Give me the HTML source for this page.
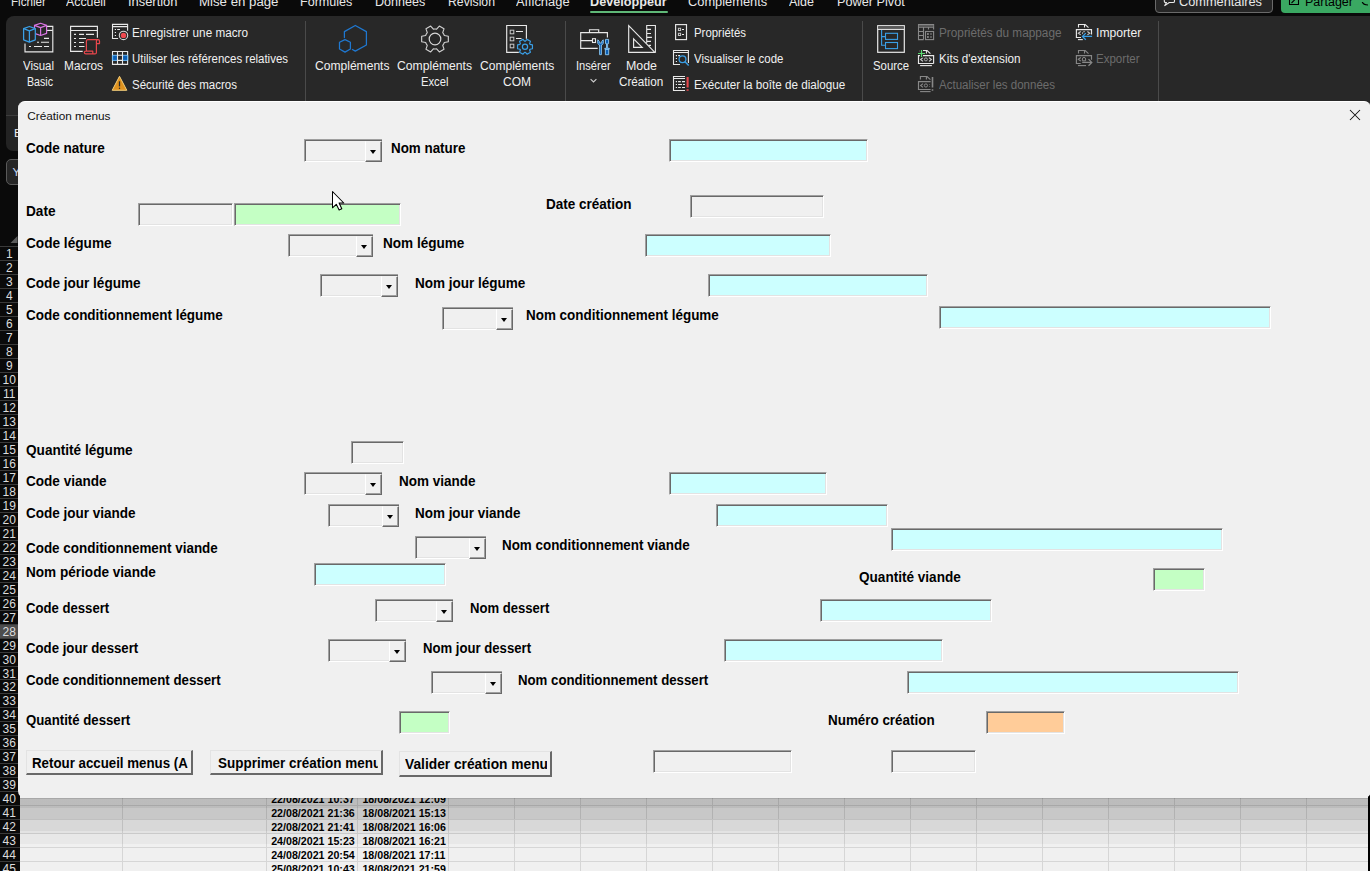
<!DOCTYPE html>
<html><head><meta charset="utf-8"><style>
*{margin:0;padding:0;box-sizing:border-box}
html,body{width:1370px;height:871px;overflow:hidden;background:#0a0a0a;font-family:'Liberation Sans', sans-serif}
.t{position:absolute;white-space:nowrap;line-height:normal;font-family:'Liberation Sans', sans-serif}
#topbar{position:absolute;left:0;top:0;width:1370px;height:16px;background:#0a0a0a}
#ribbon{position:absolute;left:6px;top:16px;width:1400px;height:99px;background:#282828;border-radius:8px 0 0 0}
#ribbon2{position:absolute;left:6px;top:115px;width:30px;height:36px;background:#232323;border-top:1px solid #3d3d3d;border-radius:0 0 0 7px}
.rh{position:absolute;left:0;width:20px;border-bottom:1px solid #3a3a3a;color:#dcdcdc;font-size:12px;line-height:15px;text-align:center;padding-right:1.5px;font-family:'Liberation Sans', sans-serif}
#cells{position:absolute;left:20px;top:780px;width:1348px;height:91px;background:#f0f0f0}
#shadow{position:absolute;left:20px;top:798px;width:1348px;height:50px;background:linear-gradient(to bottom, rgba(0,0,0,0.3) 0px, rgba(0,0,0,0.3) 1px, rgba(0,0,0,0.215) 1px, rgba(0,0,0,0.215) 10px, rgba(0,0,0,0.167) 10px, rgba(0,0,0,0.167) 21px, rgba(0,0,0,0.1) 21px, rgba(0,0,0,0.1) 33px, rgba(0,0,0,0.055) 33px, rgba(0,0,0,0.055) 36px, rgba(0,0,0,0.035) 36px, rgba(0,0,0,0.035) 46px, rgba(0,0,0,0) 46px)}
#dlg{position:absolute;left:18px;top:101px;width:1353px;height:697px;background:#f0f0f0;border-radius:7px;overflow:hidden;border-top:1px solid #ffffff}
.lb{font-size:14px;font-weight:bold;color:#000}
.tb{position:absolute;border-style:solid;border-width:1px;border-color:#a0a0a0 #ffffff #ffffff #a0a0a0;box-shadow:inset 1px 1px 0 #696969, inset -1px -1px 0 #e3e3e3}
.cb{position:absolute;background:#f0f0f0;border-style:solid;border-width:1px 0 1px 1px;border-color:#a0a0a0 #ffffff #ffffff #a0a0a0;box-shadow:inset 1px 1px 0 #696969, inset 0 -1px 0 #e3e3e3}
.cb .btn{position:absolute;right:0;top:1px;bottom:-1px;background:#f0f0f0;border-style:solid;border-width:1px 1px 1px 1px;border-color:#f0f0f0 #696969 #696969 #ffffff;box-shadow:inset -1px -1px 0 #a0a0a0}
.cb .btn i{position:absolute;left:50%;top:50%;margin-left:-4px;margin-top:-2px;width:0;height:0;border-left:3.5px solid transparent;border-right:3.5px solid transparent;border-top:4px solid #000}
.cmd{position:absolute;background:#f0f0f0;border-style:solid;border-width:1px 2px 2px 1px;border-color:#e3e3e3 #696969 #696969 #e3e3e3;overflow:hidden}
</style></head><body>
<div id="topbar"></div><div class="t" style="left: 10.5px; top: -5.1px; font-size: 12.3px; font-weight: normal; color: rgb(232, 232, 232); transform: scaleX(0.9483); transform-origin: 0px 0px;">Fichier</div><div class="t" style="left: 66px; top: -5.1px; font-size: 12.3px; font-weight: normal; color: rgb(232, 232, 232); transform: scaleX(1.0036); transform-origin: 0px 0px;">Accueil</div><div class="t" style="left: 128px; top: -5.1px; font-size: 12.3px; font-weight: normal; color: rgb(232, 232, 232); transform: scaleX(1.0472); transform-origin: 0px 0px;">Insertion</div><div class="t" style="left: 199px; top: -5.1px; font-size: 12.3px; font-weight: normal; color: rgb(232, 232, 232); transform: scaleX(1.0766); transform-origin: 0px 0px;">Mise en page</div><div class="t" style="left: 300px; top: -5.1px; font-size: 12.3px; font-weight: normal; color: rgb(232, 232, 232); transform: scaleX(1.0224); transform-origin: 0px 0px;">Formules</div><div class="t" style="left: 375.4px; top: -5.1px; font-size: 12.3px; font-weight: normal; color: rgb(232, 232, 232); transform: scaleX(1.0216); transform-origin: 0px 0px;">Données</div><div class="t" style="left: 447.7px; top: -5.1px; font-size: 12.3px; font-weight: normal; color: rgb(232, 232, 232); transform: scaleX(0.9964); transform-origin: 0px 0px;">Révision</div><div class="t" style="left: 515.9px; top: -5.1px; font-size: 12.3px; font-weight: normal; color: rgb(232, 232, 232); transform: scaleX(1.0497); transform-origin: 0px 0px;">Affichage</div><div class="t" style="left: 590.3px; top: -5.1px; font-size: 12.3px; font-weight: bold; color: rgb(232, 232, 232); transform: scaleX(1.0284); transform-origin: 0px 0px;">Développeur</div><div class="t" style="left: 688.3px; top: -5.1px; font-size: 12.3px; font-weight: normal; color: rgb(232, 232, 232); transform: scaleX(1.044); transform-origin: 0px 0px;">Compléments</div><div class="t" style="left: 789.2px; top: -5.1px; font-size: 12.3px; font-weight: normal; color: rgb(232, 232, 232); transform: scaleX(1.0152); transform-origin: 0px 0px;">Aide</div><div class="t" style="left: 837.2px; top: -5.1px; font-size: 12.3px; font-weight: normal; color: rgb(232, 232, 232); transform: scaleX(1.0331); transform-origin: 0px 0px;">Power Pivot</div><div style="position:absolute;left:590px;top:11px;width:78px;height:2px;background:#5fb877;border-radius:1px"></div><div style="position:absolute;left:1155px;top:-6px;width:118px;height:19px;border:1px solid #6a6a6a;border-radius:4px;background:#262626"></div><svg style="position:absolute;left:0;top:0" width="1370" height="16" viewBox="0 0 1370 16"><path d="M1164.3 -6 V1.2 Q1164.3 2.5 1165.6 2.5 H1166.5 L1164.8 5.6 L1169.3 2.5 H1173.2 Q1174.5 2.5 1174.5 1.2 V-6" fill="none" stroke="#e8e8e8" stroke-width="1.1" stroke-linejoin="round"></path></svg><div class="t" style="left: 1179.4px; top: -5.1px; font-size: 12.3px; color: rgb(232, 232, 232); transform: scaleX(1.0379); transform-origin: 0px 0px;">Commentaires</div><div style="position:absolute;left:1281px;top:-6px;width:100px;height:19px;border-radius:4px;background:#3aa862"></div><div class="t" style="left: 1304.6px; top: -5.1px; font-size: 12.3px; color: rgb(0, 0, 0); transform: scaleX(1.0176); transform-origin: 0px 0px;">Partager</div><svg style="position:absolute;left:0;top:0" width="1370" height="16" viewBox="0 0 1370 16"><path d="M1289.5 -4 V4.5 H1298.5 V-4 M1291.5 3 L1297 -2.5" fill="none" stroke="#000" stroke-width="1.1"></path></svg><svg style="position:absolute;left:1360px;top:2px" width="10" height="10" viewBox="0 0 10 10"><path d="M2 -2 Q 2 3 8 3" fill="none" stroke="#000" stroke-width="1.2"></path></svg><div id="ribbon"></div><div id="ribbon2"></div><div style="position:absolute;left:304.5px;top:21px;width:1px;height:80px;background:#4a4a4a"></div><div style="position:absolute;left:565px;top:21px;width:1px;height:80px;background:#4a4a4a"></div><div style="position:absolute;left:861.5px;top:21px;width:1px;height:80px;background:#4a4a4a"></div><div style="position:absolute;left:1158px;top:21px;width:1px;height:80px;background:#4a4a4a"></div><svg style="position:absolute;left:0;top:0" width="1370" height="101" viewBox="0 0 1370 101"><path d="M37 26.3 H52.8 V51.8 H25 V43.5" fill="none" stroke="#e8e8e8" stroke-width="1.15"></path><path d="M47 30.4 H52.8" stroke="#e8e8e8" stroke-width="1.15"></path><path d="M44 38.4 H49 M37 42.3 H39 M41 42.3 H49 M29 46.5 H31 M34 46.5 H42 M44 46.5 H49" stroke="#e8e8e8" stroke-width="1.1"></path><path d="M34.5 25.4 L40.6 23.3 L46.6 25.4 V33.4 L40.6 35.5 L34.5 33.4 Z" fill="#282828" stroke="#d975e3" stroke-width="1.2" stroke-linejoin="round"></path><path d="M34.5 25.4 L40.6 27.6 L46.6 25.4 M40.6 27.6 V35.5" fill="none" stroke="#d975e3" stroke-width="1.2" stroke-linejoin="round"></path><path d="M23.6 28.7 L29.4 26.5 L35.3 28.7 V39.8 L29.4 42.2 L23.6 39.8 Z" fill="#282828" stroke="#3a9fe6" stroke-width="1.25" stroke-linejoin="round"></path><path d="M23.6 28.7 L29.4 30.9 L35.3 28.7 M29.4 30.9 V42.2" fill="none" stroke="#3a9fe6" stroke-width="1.25" stroke-linejoin="round"></path><path d="M82.7 51.4 H70.6 V26.3 H97.4 V37.7 M70.6 30.5 H97.4" fill="none" stroke="#e8e8e8" stroke-width="1.15"></path><path d="M74 34.4 H76 M79 34.4 H84 M86 34.4 H94 M74 38.5 H76 M79 38.5 H86 M74 42.5 H76 M79 42.5 H84 M74 46.5 H76 M79 46.5 H84.5" stroke="#e8e8e8" stroke-width="1.1"></path><path d="M86.4 51.5 V41 Q86.4 39.6 87.8 39.6 H98 Q99.5 39.6 99.5 41 V43.6 H96.4 M98 39.6 Q96.4 39.6 96.4 41 V52.4 Q96.4 53.9 95 53.9 H85.8 Q84.3 53.9 84.3 52.6 Q84.3 51.2 85.8 51.2 H92.8 V53.9" fill="#282828" stroke="#e8474c" stroke-width="1.2" stroke-linejoin="round"></path><path d="M118.1 38.5 H112.5 V24.4 H127.6 V30.8 M112.5 26.6 H127.6" fill="none" stroke="#e8e8e8" stroke-width="1.1"></path><path d="M114.8 29.5 H116 M117.2 29.5 H120 M114.8 32.5 H116 M114.8 35.5 H116" stroke="#e8e8e8" stroke-width="1.1"></path><circle cx="123.5" cy="35.4" r="4.2" fill="#282828" stroke="#d8d8d8" stroke-width="1.1"></circle><circle cx="123.5" cy="35.4" r="2.7" fill="#ee4a50"></circle><rect x="112.5" y="55.3" width="5" height="5.1" fill="#0b5fb5" stroke="#6ab8f5" stroke-width="1"></rect><rect x="122.5" y="55.3" width="5.1" height="5.1" fill="#0b5fb5" stroke="#6ab8f5" stroke-width="1"></rect><path d="M112.5 51.5 H127.6 V64.4 H112.5 Z M117.5 51.5 V64.4 M122.5 51.5 V64.4 M117.5 55.3 H122.5 M117.5 60.4 H122.5" fill="none" stroke="#e8e8e8" stroke-width="1.1"></path><path d="M112.5 55.3 V60.4 M127.6 55.3 V60.4" stroke="#6ab8f5" stroke-width="1.1"></path><path d="M119.5 76.3 L126.8 90.3 H112.2 Z" fill="#e0921e" stroke="#f3cf7c" stroke-width="1" stroke-linejoin="round"></path><path d="M119.5 81.3 V86.4" stroke="#2a2a2a" stroke-width="1.3"></path><circle cx="119.5" cy="88.3" r="0.75" fill="#2a2a2a"></circle><path d="M344.4 37.6 V31.6 L355.3 25.5 L366.4 31.6 V45 L355.3 51.1 L352.4 49.5" fill="none" stroke="#1f78d1" stroke-width="1.25" stroke-linejoin="round" stroke-linecap="round"></path><path d="M345 39.6 L350.4 42.3 V49 L345 52.1 L339.5 49 V42.3 Z" fill="none" stroke="#1f78d1" stroke-width="1.25" stroke-linejoin="round"></path><path d="M444.36 35.48 L448.33 36.30 L448.33 41.70 L444.36 42.52 A10.0 10.0 0 0 1 442.73 45.34 L442.73 45.34 L444.00 49.19 L439.32 51.89 L436.63 48.87 A10.0 10.0 0 0 1 433.37 48.87 L433.37 48.87 L430.68 51.89 L426.00 49.19 L427.27 45.34 A10.0 10.0 0 0 1 425.64 42.52 L425.64 42.52 L421.67 41.70 L421.67 36.30 L425.64 35.48 A10.0 10.0 0 0 1 427.27 32.66 L427.27 32.66 L426.00 28.81 L430.68 26.11 L433.37 29.13 A10.0 10.0 0 0 1 436.63 29.13 L436.63 29.13 L439.32 26.11 L444.00 28.81 L442.73 32.66 A10.0 10.0 0 0 1 444.36 35.48 Z" fill="none" stroke="#d0d0d0" stroke-width="1.15" stroke-linejoin="round"></path><circle cx="435" cy="39" r="5.8" fill="none" stroke="#d8d8d8" stroke-width="1.2"></circle><path d="M518.8 52.3 H506.7 V25.5 H526.4 V38.8" fill="none" stroke="#e8e8e8" stroke-width="1.15"></path><rect x="510.2" y="30.2" width="3.6" height="3.6" fill="none" stroke="#c8c8c8" stroke-width="1"></rect><rect x="510.2" y="37.2" width="3.6" height="3.6" fill="none" stroke="#c8c8c8" stroke-width="1"></rect><rect x="510.2" y="44.2" width="3.6" height="3.6" fill="none" stroke="#c8c8c8" stroke-width="1"></rect><path d="M516 31.5 H523 M516 38.5 H521.5" stroke="#e8e8e8" stroke-width="1"></path><path d="M530.04 44.36 L532.44 44.82 L532.44 48.78 L530.04 49.24 A5.6 5.6 0 0 1 529.63 49.95 L529.63 49.95 L530.43 52.25 L527.01 54.23 L525.41 52.38 A5.6 5.6 0 0 1 524.59 52.38 L524.59 52.38 L522.99 54.23 L519.57 52.25 L520.37 49.95 A5.6 5.6 0 0 1 519.96 49.24 L519.96 49.24 L517.56 48.78 L517.56 44.82 L519.96 44.36 A5.6 5.6 0 0 1 520.37 43.65 L520.37 43.65 L519.57 41.35 L522.99 39.37 L524.59 41.22 A5.6 5.6 0 0 1 525.41 41.22 L525.41 41.22 L527.01 39.37 L530.43 41.35 L529.63 43.65 A5.6 5.6 0 0 1 530.04 44.36 Z" fill="#282828" stroke="#3a9fe6" stroke-width="1.2" stroke-linejoin="round"></path><circle cx="525" cy="46.8" r="2.6" fill="none" stroke="#3a9fe6" stroke-width="1.2"></circle><path d="M597.7 48.4 H580.7 V32.6 H607.4 V37.5 M589.5 32.6 V29.7 H598.7 V32.6 M580.7 40.6 H592.4" fill="none" stroke="#e8e8e8" stroke-width="1.15"></path><rect x="592.5" y="38.7" width="3" height="3.8" fill="none" stroke="#e8e8e8" stroke-width="1.1"></rect><path d="M597.8 39.8 Q597 44.5 599.6 45 V54.7 H601.4 V45 Q604 44.5 603.2 39.8 L601.8 41.2 V43 H599.2 V41.2 Z" fill="#0b5fb5" stroke="#8ccaf5" stroke-width="0.9" stroke-linejoin="round"></path><path d="M605.5 39.4 H608.6 V43.6 H607.6 V48.3 H609.3 V49.2 H604.8 V48.3 H606.5 V43.6 H605.5 Z M605.4 49.2 H608.7 V54.7 H605.4 Z" fill="#0b5fb5" stroke="#8ccaf5" stroke-width="0.9" stroke-linejoin="round"></path><path d="M590.6 79.2 L593.5 82 L596.4 79.2" fill="none" stroke="#d0d0d0" stroke-width="1.1"></path><path d="M628.7 25.7 L654.9 52.3 H628.7 Z M633.6 38.8 L642.2 47.4 H633.6 Z" fill="none" stroke="#e8e8e8" stroke-width="1.15" stroke-linejoin="miter"></path><path d="M646.7 43 V25.5 H655.4 V52.3 M646.7 29.4 H651 M646.7 33.5 H651 M646.7 37.4 H651.9 M646.7 41.4 H651 M648.5 45.4 H651" fill="none" stroke="#e8e8e8" stroke-width="1.1"></path><rect x="675.6" y="24.6" width="10.9" height="15" fill="none" stroke="#e8e8e8" stroke-width="1.15"></rect><rect x="678.4" y="28.3" width="2.2" height="2.2" fill="none" stroke="#c8c8c8" stroke-width="1"></rect><rect x="678.4" y="33.3" width="2.2" height="2.2" fill="none" stroke="#c8c8c8" stroke-width="1"></rect><path d="M682 29.5 H684 M682 34.5 H684" stroke="#e8e8e8" stroke-width="1"></path><path d="M680 64.5 H673.5 V50.5 H688.4 V63 M673.5 52.5 H688.4" fill="none" stroke="#e8e8e8" stroke-width="1.1"></path><path d="M675.8 55.6 H677 M678.1 55.6 H680 M675.8 58.5 H677 M675.8 61.5 H677" stroke="#e8e8e8" stroke-width="1.1"></path><circle cx="682.5" cy="59.3" r="3.4" fill="#282828" stroke="#3a9fe6" stroke-width="1.3"></circle><path d="M685 61.8 L688.7 65.5" stroke="#3a9fe6" stroke-width="1.4"></path><path d="M685 76.5 H673.5 V90.5 H685 M673.5 78.5 H685" fill="none" stroke="#e8e8e8" stroke-width="1.1"></path><path d="M675.8 81.6 H677 M678.1 81.6 H680.8 M682 81.6 H685 M675.8 84.5 H677 M678.1 84.5 H682 M683 84.5 H685 M675.8 87.5 H677 M678.1 87.5 H680.8 M682 87.5 H685" stroke="#e8e8e8" stroke-width="1.1"></path><path d="M687.6 77.1 V87.5 M687.6 89.2 V90.8" stroke="#e8474c" stroke-width="2.1"></path><rect x="877.7" y="25.7" width="26.6" height="26.6" fill="none" stroke="#e8e8e8" stroke-width="1.2"></rect><rect x="878.3" y="26.3" width="25.4" height="2.5" fill="#5a5a5a"></rect><path d="M877.7 29.4 H904.3" stroke="#e8e8e8" stroke-width="1.1"></path><path d="M881.6 30 V45.3 H885.5 M881.6 36.6 H885.5" fill="none" stroke="#3a9fe6" stroke-width="1.1"></path><rect x="885.5" y="33.3" width="12" height="6.1" fill="none" stroke="#3a9fe6" stroke-width="1.1"></rect><rect x="885.5" y="42.5" width="12" height="6.1" fill="none" stroke="#3a9fe6" stroke-width="1.1"></rect><path d="M923.6 39.6 H918.5 V24.5 H933.6 V29.6 M918.5 27.2 H933.6 M923.5 27.2 V39.6 M928.5 27.2 V29.6 M918.5 31.5 H923.5 M918.5 35.5 H923.5" fill="none" stroke="#888888" stroke-width="1.1"></path><rect x="918.8" y="25" width="14.5" height="1.8" fill="#5e5e5e"></rect><rect x="925.5" y="31.5" width="8.1" height="8.1" fill="none" stroke="#888888" stroke-width="1.1"></rect><rect x="927" y="33.1" width="1.8" height="1.8" fill="#888888"></rect><rect x="927" y="36.1" width="1.8" height="1.8" fill="#888888"></rect><path d="M930 34 H932 M930 37 H932" stroke="#888888" stroke-width="1"></path><path d="M920.4 53.6 V50.5 H927.1 L930.4 53.6 M926.4 50.5 V53.6" fill="none" stroke="#e8e8e8" stroke-width="1.1"></path><path d="M933.6 63.5 H918.5 V55.6 H933.6 V63.5" fill="none" stroke="#e8e8e8" stroke-width="1.15"></path><path d="M920.1 65.6 H931.9" stroke="#e8e8e8" stroke-width="1.1"></path><path d="M923 57.6 L920.6 59.5 L923 61.4 M929 57.6 L931.4 59.5 L929 61.4" fill="none" stroke="#d0d0d0" stroke-width="1.1"></path><circle cx="925.9" cy="59.4" r="1.5" fill="none" stroke="#a8a8a8" stroke-width="1"></circle><path d="M917.6 53.5 H925.4 M921.5 49.6 V57.4" stroke="#282828" stroke-width="3"></path><path d="M918 53.5 H925 M921.5 50 V57" stroke="#5ad870" stroke-width="1.2"></path><path d="M920.4 79.6 V76.5 H927.1 L930.4 79.6 M926.4 76.5 V79.6" fill="none" stroke="#888888" stroke-width="1.1"></path><path d="M930.6 89.5 H918.5 V81.6 H930.6 V81.6" fill="none" stroke="#888888" stroke-width="1.15"></path><path d="M920.1 91.6 H930.6" stroke="#888888" stroke-width="1.1"></path><path d="M923 83.6 L920.6 85.5 L923 87.4" fill="none" stroke="#888888" stroke-width="1.1"></path><circle cx="925.9" cy="85.5" r="1.6" fill="none" stroke="#888888" stroke-width="1"></circle><path d="M929.5 84 V84.5 M929.5 86.5 V87" stroke="#888888" stroke-width="1.1"></path><path d="M932.5 77 V87.5 M932.5 89.3 V90.8" stroke="#888888" stroke-width="1.6"></path><path d="M1078.5 27.6 V24.5 H1085.2 L1088.5 27.6 M1084.5 24.5 V27.6" fill="none" stroke="#e8e8e8" stroke-width="1.1"></path><path d="M1081 37.5 H1076.4 V29.6 H1091.5 V34.6" fill="none" stroke="#e8e8e8" stroke-width="1.15"></path><path d="M1078 39.6 H1082.8" stroke="#e8e8e8" stroke-width="1.1"></path><path d="M1080.7 31.5 L1078.3 33.2 L1080.7 34.9 M1087.4 31.5 L1089.8 33.2 L1087.4 34.9" fill="none" stroke="#c8c8c8" stroke-width="1.1"></path><path d="M1082.6 34 A1.7 1.7 0 0 1 1085 31.8" fill="none" stroke="#a0a0a0" stroke-width="1"></path><path d="M1092.1 36.4 H1082.6 M1085.8 33.1 L1082.5 36.4 L1085.8 39.7" fill="none" stroke="#3a9fe6" stroke-width="1.3"></path><path d="M1078.5 53.6 V50.5 H1085.2 L1088.5 53.6 M1084.5 50.5 V53.6" fill="none" stroke="#888888" stroke-width="1.1"></path><path d="M1080.7 63.5 H1076.4 V55.6 H1091.5 V59.7" fill="none" stroke="#888888" stroke-width="1.15"></path><path d="M1078 65.6 H1086" stroke="#888888" stroke-width="1.1"></path><path d="M1080.8 57.5 L1078.3 59.3 L1080.8 61.1" fill="none" stroke="#888888" stroke-width="1.1"></path><path d="M1082.4 60.8 V59 A1.6 1.6 0 0 1 1085.6 59 V60.8 Z" fill="none" stroke="#888888" stroke-width="1"></path><path d="M1082.2 62.4 H1091.5 M1088.5 59.1 L1091.8 62.4 L1088.5 65.7" fill="none" stroke="#888888" stroke-width="1.3"></path></svg><div class="t" style="left: 23px; top: 58.87px; font-size: 12.3px; color: rgb(240, 240, 240); transform: scaleX(0.9315); transform-origin: 0px 0px;">Visual</div><div class="t" style="left: 26.5px; top: 74.87px; font-size: 12.3px; color: rgb(240, 240, 240); transform: scaleX(0.8644); transform-origin: 0px 0px;">Basic</div><div class="t" style="left: 64px; top: 58.87px; font-size: 12.3px; color: rgb(240, 240, 240); transform: scaleX(0.9671); transform-origin: 0px 0px;">Macros</div><div class="t" style="left: 132.2px; top: 25.87px; font-size: 12.3px; color: rgb(240, 240, 240); transform: scaleX(0.9535); transform-origin: 0px 0px;">Enregistrer une macro</div><div class="t" style="left: 132.2px; top: 51.87px; font-size: 12.3px; color: rgb(240, 240, 240); transform: scaleX(0.9317); transform-origin: 0px 0px;">Utiliser les références relatives</div><div class="t" style="left: 132.2px; top: 77.87px; font-size: 12.3px; color: rgb(240, 240, 240); transform: scaleX(0.9367); transform-origin: 0px 0px;">Sécurité des macros</div><div class="t" style="left: 315.3px; top: 58.67px; font-size: 12.3px; color: rgb(240, 240, 240); transform: scaleX(0.9821); transform-origin: 0px 0px;">Compléments</div><div class="t" style="left: 397.3px; top: 58.67px; font-size: 12.3px; color: rgb(240, 240, 240); transform: scaleX(0.9887); transform-origin: 0px 0px;">Compléments</div><div class="t" style="left: 421px; top: 74.67px; font-size: 12.3px; color: rgb(240, 240, 240); transform: scaleX(0.9143); transform-origin: 0px 0px;">Excel</div><div class="t" style="left: 479.6px; top: 58.67px; font-size: 12.3px; color: rgb(240, 240, 240); transform: scaleX(0.9808); transform-origin: 0px 0px;">Compléments</div><div class="t" style="left: 503px; top: 74.67px; font-size: 12.3px; color: rgb(240, 240, 240); transform: scaleX(0.9755); transform-origin: 0px 0px;">COM</div><div class="t" style="left: 576.4px; top: 58.67px; font-size: 12.3px; color: rgb(240, 240, 240); transform: scaleX(0.9038); transform-origin: 0px 0px;">Insérer</div><div class="t" style="left: 626px; top: 58.67px; font-size: 12.3px; color: rgb(240, 240, 240); transform: scaleX(1.0076); transform-origin: 0px 0px;">Mode</div><div class="t" style="left: 619.3px; top: 74.67px; font-size: 12.3px; color: rgb(240, 240, 240); transform: scaleX(0.9509); transform-origin: 0px 0px;">Création</div><div class="t" style="left: 693.5px; top: 25.87px; font-size: 12.3px; color: rgb(240, 240, 240); transform: scaleX(0.9278); transform-origin: 0px 0px;">Propriétés</div><div class="t" style="left: 693.5px; top: 51.87px; font-size: 12.3px; color: rgb(240, 240, 240); transform: scaleX(0.9297); transform-origin: 0px 0px;">Visualiser le code</div><div class="t" style="left: 693.5px; top: 77.87px; font-size: 12.3px; color: rgb(240, 240, 240); transform: scaleX(0.9498); transform-origin: 0px 0px;">Exécuter la boîte de dialogue</div><div class="t" style="left: 873px; top: 58.77px; font-size: 12.3px; color: rgb(240, 240, 240); transform: scaleX(0.9238); transform-origin: 0px 0px;">Source</div><div class="t" style="left: 938.5px; top: 26.17px; font-size: 12.3px; color: rgb(108, 108, 108); transform: scaleX(0.9582); transform-origin: 0px 0px;">Propriétés du mappage</div><div class="t" style="left: 938.5px; top: 52.17px; font-size: 12.3px; color: rgb(240, 240, 240); transform: scaleX(0.9504); transform-origin: 0px 0px;">Kits d'extension</div><div class="t" style="left: 938.5px; top: 78.17px; font-size: 12.3px; color: rgb(108, 108, 108); transform: scaleX(0.9375); transform-origin: 0px 0px;">Actualiser les données</div><div class="t" style="left: 1096.4px; top: 26.17px; font-size: 12.3px; color: rgb(240, 240, 240); transform: scaleX(0.9892); transform-origin: 0px 0px;">Importer</div><div class="t" style="left: 1096.4px; top: 52.17px; font-size: 12.3px; color: rgb(108, 108, 108); transform: scaleX(0.9379); transform-origin: 0px 0px;">Exporter</div><div class="t" style="left:14px;top:126px;font-size:11.7px;color:#f0f0f0">B</div><div style="position:absolute;left:6px;top:159px;width:30px;height:26px;border:1px solid #5a5a5a;border-radius:5px;background:#262626"></div><div class="t" style="left:12.5px;top:165px;font-size:11.7px;color:#c8d8f0">Y</div><svg style="position:absolute;left:9px;top:234px" width="10" height="10"><path d="M8.5 2 V9 H1.5 Z" fill="#5a5a5a"></path></svg><div style="position:absolute;left:0;top:246px;width:20px;height:1px;background:#3a3a3a"></div><div class="rh" style="top:247px;height:14px;background:#0a0a0a">1</div><div class="rh" style="top:261px;height:14px;background:#0a0a0a">2</div><div class="rh" style="top:275px;height:14px;background:#0a0a0a">3</div><div class="rh" style="top:289px;height:14px;background:#0a0a0a">4</div><div class="rh" style="top:303px;height:14px;background:#0a0a0a">5</div><div class="rh" style="top:317px;height:14px;background:#0a0a0a">6</div><div class="rh" style="top:331px;height:14px;background:#0a0a0a">7</div><div class="rh" style="top:345px;height:14px;background:#0a0a0a">8</div><div class="rh" style="top:359px;height:14px;background:#0a0a0a">9</div><div class="rh" style="top:373px;height:14px;background:#0a0a0a">10</div><div class="rh" style="top:387px;height:14px;background:#0a0a0a">11</div><div class="rh" style="top:401px;height:14px;background:#0a0a0a">12</div><div class="rh" style="top:415px;height:14px;background:#0a0a0a">13</div><div class="rh" style="top:429px;height:14px;background:#0a0a0a">14</div><div class="rh" style="top:443px;height:14px;background:#0a0a0a">15</div><div class="rh" style="top:457px;height:14px;background:#0a0a0a">16</div><div class="rh" style="top:471px;height:14px;background:#0a0a0a">17</div><div class="rh" style="top:485px;height:14px;background:#0a0a0a">18</div><div class="rh" style="top:499px;height:14px;background:#0a0a0a">19</div><div class="rh" style="top:513px;height:14px;background:#0a0a0a">20</div><div class="rh" style="top:527px;height:14px;background:#0a0a0a">21</div><div class="rh" style="top:541px;height:14px;background:#0a0a0a">22</div><div class="rh" style="top:555px;height:14px;background:#0a0a0a">23</div><div class="rh" style="top:569px;height:14px;background:#0a0a0a">24</div><div class="rh" style="top:583px;height:14px;background:#0a0a0a">25</div><div class="rh" style="top:597px;height:14px;background:#0a0a0a">26</div><div class="rh" style="top:611px;height:14px;background:#0a0a0a">27</div><div class="rh" style="top:625px;height:14px;background:#4d4d4d">28</div><div class="rh" style="top:639px;height:14px;background:#0a0a0a">29</div><div class="rh" style="top:653px;height:14px;background:#0a0a0a">30</div><div class="rh" style="top:667px;height:13px;background:#0a0a0a">31</div><div class="rh" style="top:680px;height:14px;background:#0a0a0a">32</div><div class="rh" style="top:694px;height:14px;background:#0a0a0a">33</div><div class="rh" style="top:708px;height:14px;background:#0a0a0a">34</div><div class="rh" style="top:722px;height:14px;background:#0a0a0a">35</div><div class="rh" style="top:736px;height:14px;background:#0a0a0a">36</div><div class="rh" style="top:750px;height:14px;background:#0a0a0a">37</div><div class="rh" style="top:764px;height:14px;background:#0a0a0a">38</div><div class="rh" style="top:778px;height:14px;background:#0a0a0a">39</div><div class="rh" style="top:792px;height:14px;background:#0a0a0a">40</div><div class="rh" style="top:806px;height:14px;background:#0a0a0a">41</div><div class="rh" style="top:820px;height:14px;background:#0a0a0a">42</div><div class="rh" style="top:834px;height:14px;background:#0a0a0a">43</div><div class="rh" style="top:848px;height:14px;background:#0a0a0a">44</div><div class="rh" style="top:862px;height:14px;background:#0a0a0a">45</div><div class="rh" style="top:876px;height:14px;background:#0a0a0a">46</div><div id="cells"></div><div style="position:absolute;left:122px;top:780px;width:1px;height:91px;background:#d6d6d6"></div><div style="position:absolute;left:266px;top:780px;width:1px;height:91px;background:#d6d6d6"></div><div style="position:absolute;left:357px;top:780px;width:1px;height:91px;background:#d6d6d6"></div><div style="position:absolute;left:448px;top:780px;width:1px;height:91px;background:#d6d6d6"></div><div style="position:absolute;left:514px;top:780px;width:1px;height:91px;background:#d6d6d6"></div><div style="position:absolute;left:580px;top:780px;width:1px;height:91px;background:#d6d6d6"></div><div style="position:absolute;left:646px;top:780px;width:1px;height:91px;background:#d6d6d6"></div><div style="position:absolute;left:712px;top:780px;width:1px;height:91px;background:#d6d6d6"></div><div style="position:absolute;left:778px;top:780px;width:1px;height:91px;background:#d6d6d6"></div><div style="position:absolute;left:844px;top:780px;width:1px;height:91px;background:#d6d6d6"></div><div style="position:absolute;left:910px;top:780px;width:1px;height:91px;background:#d6d6d6"></div><div style="position:absolute;left:976px;top:780px;width:1px;height:91px;background:#d6d6d6"></div><div style="position:absolute;left:1042px;top:780px;width:1px;height:91px;background:#d6d6d6"></div><div style="position:absolute;left:1108px;top:780px;width:1px;height:91px;background:#d6d6d6"></div><div style="position:absolute;left:1174px;top:780px;width:1px;height:91px;background:#d6d6d6"></div><div style="position:absolute;left:1240px;top:780px;width:1px;height:91px;background:#d6d6d6"></div><div style="position:absolute;left:1306px;top:780px;width:1px;height:91px;background:#d6d6d6"></div><div style="position:absolute;left:20px;top:791px;width:1348px;height:1px;background:#d6d6d6"></div><div style="position:absolute;left:20px;top:805px;width:1348px;height:1px;background:#d6d6d6"></div><div style="position:absolute;left:20px;top:819px;width:1348px;height:1px;background:#d6d6d6"></div><div style="position:absolute;left:20px;top:833px;width:1348px;height:1px;background:#d6d6d6"></div><div style="position:absolute;left:20px;top:847px;width:1348px;height:1px;background:#d6d6d6"></div><div style="position:absolute;left:20px;top:861px;width:1348px;height:1px;background:#d6d6d6"></div><div class="t" style="left:271.2px;top:793px;font-size:10.67px;font-weight:bold;color:#000">22/08/2021 10:37</div><div class="t" style="left:362.4px;top:793px;font-size:10.67px;font-weight:bold;color:#000">18/08/2021 12:09</div><div class="t" style="left:271.2px;top:807px;font-size:10.67px;font-weight:bold;color:#000">22/08/2021 21:36</div><div class="t" style="left:362.4px;top:807px;font-size:10.67px;font-weight:bold;color:#000">18/08/2021 15:13</div><div class="t" style="left:271.2px;top:821px;font-size:10.67px;font-weight:bold;color:#000">22/08/2021 21:41</div><div class="t" style="left:362.4px;top:821px;font-size:10.67px;font-weight:bold;color:#000">18/08/2021 16:06</div><div class="t" style="left:271.2px;top:835px;font-size:10.67px;font-weight:bold;color:#000">24/08/2021 15:23</div><div class="t" style="left:362.4px;top:835px;font-size:10.67px;font-weight:bold;color:#000">18/08/2021 16:21</div><div class="t" style="left:271.2px;top:849px;font-size:10.67px;font-weight:bold;color:#000">24/08/2021 20:54</div><div class="t" style="left:362.4px;top:849px;font-size:10.67px;font-weight:bold;color:#000">18/08/2021 17:11</div><div class="t" style="left:271.2px;top:863px;font-size:10.67px;font-weight:bold;color:#000">25/08/2021 10:43</div><div class="t" style="left:362.4px;top:863px;font-size:10.67px;font-weight:bold;color:#000">18/08/2021 21:59</div><div id="shadow"></div><div style="position:absolute;left:1368px;top:788px;width:2px;height:83px;background:#000"></div><div id="dlg"><div style="position:absolute;left:-18px;top:-102px"><div class="t" style="left:27.2px;top:109.4px;font-size:11.8px;color:#111">Création menus</div><svg style="position:absolute;left:1349px;top:109px" width="12" height="12" viewBox="0 0 12 12"><path d="M1 1 L11 11 M11 1 L1 11" stroke="#111" stroke-width="1.05"></path></svg><div class="t lb" style="left: 25.6px; top: 140.4px; transform: scaleX(0.9647); transform-origin: 0px 0px;">Code nature</div><div class="t lb" style="left: 390.8px; top: 140.4px; transform: scaleX(0.9563); transform-origin: 0px 0px;">Nom nature</div><div class="t lb" style="left: 25.6px; top: 203.4px; transform: scaleX(0.975); transform-origin: 0px 0px;">Date</div><div class="t lb" style="left: 545.6px; top: 195.5px; transform: scaleX(0.965); transform-origin: 0px 0px;">Date création</div><div class="t lb" style="left: 25.6px; top: 235.4px; transform: scaleX(0.9738); transform-origin: 0px 0px;">Code légume</div><div class="t lb" style="left: 382.8px; top: 235.4px; transform: scaleX(0.9689); transform-origin: 0px 0px;">Nom légume</div><div class="t lb" style="left: 25.6px; top: 275.4px; transform: scaleX(0.9693); transform-origin: 0px 0px;">Code jour légume</div><div class="t lb" style="left: 414.8px; top: 275.4px; transform: scaleX(0.9654); transform-origin: 0px 0px;">Nom jour légume</div><div class="t lb" style="left: 25.6px; top: 307.4px; transform: scaleX(0.962); transform-origin: 0px 0px;">Code conditionnement légume</div><div class="t lb" style="left: 525.6px; top: 307.4px; transform: scaleX(0.9607); transform-origin: 0px 0px;">Nom conditionnement légume</div><div class="t lb" style="left: 25.6px; top: 442.4px; transform: scaleX(0.9719); transform-origin: 0px 0px;">Quantité légume</div><div class="t lb" style="left: 25.6px; top: 473.4px; transform: scaleX(0.9682); transform-origin: 0px 0px;">Code viande</div><div class="t lb" style="left: 398.8px; top: 473.4px; transform: scaleX(0.9627); transform-origin: 0px 0px;">Nom viande</div><div class="t lb" style="left: 25.6px; top: 505.4px; transform: scaleX(0.965); transform-origin: 0px 0px;">Code jour viande</div><div class="t lb" style="left: 414.8px; top: 505.4px; transform: scaleX(0.9609); transform-origin: 0px 0px;">Nom jour viande</div><div class="t lb" style="left: 25.6px; top: 540px; transform: scaleX(0.9594); transform-origin: 0px 0px;">Code conditionnement viande</div><div class="t lb" style="left: 501.8px; top: 537.4px; transform: scaleX(0.9571); transform-origin: 0px 0px;">Nom conditionnement viande</div><div class="t lb" style="left: 25.6px; top: 564.4px; transform: scaleX(0.97); transform-origin: 0px 0px;">Nom période viande</div><div class="t lb" style="left: 858.6px; top: 569.4px; transform: scaleX(0.9692); transform-origin: 0px 0px;">Quantité viande</div><div class="t lb" style="left: 25.6px; top: 600.4px; transform: scaleX(0.938); transform-origin: 0px 0px;">Code dessert</div><div class="t lb" style="left: 469.8px; top: 600.4px; transform: scaleX(0.935); transform-origin: 0px 0px;">Nom dessert</div><div class="t lb" style="left: 25.6px; top: 640.4px; transform: scaleX(0.9426); transform-origin: 0px 0px;">Code jour dessert</div><div class="t lb" style="left: 422.8px; top: 640.4px; transform: scaleX(0.938); transform-origin: 0px 0px;">Nom jour dessert</div><div class="t lb" style="left: 25.6px; top: 672.4px; transform: scaleX(0.9476); transform-origin: 0px 0px;">Code conditionnement dessert</div><div class="t lb" style="left: 517.6px; top: 672.4px; transform: scaleX(0.9441); transform-origin: 0px 0px;">Nom conditionnement dessert</div><div class="t lb" style="left: 25.6px; top: 712.4px; transform: scaleX(0.9431); transform-origin: 0px 0px;">Quantité dessert</div><div class="t lb" style="left: 827.6px; top: 712.4px; transform: scaleX(0.9582); transform-origin: 0px 0px;">Numéro création</div><div class="tb" style="left:669px;top:139px;width:199px;height:23px;background:#ccffff"></div><div class="tb" style="left:138px;top:203px;width:95px;height:23px;background:#f0f0f0"></div><div class="tb" style="left:234px;top:203px;width:167px;height:23px;background:#c4ffc4"></div><div class="tb" style="left:690px;top:195px;width:134px;height:23px;background:#f0f0f0"></div><div class="tb" style="left:645px;top:234px;width:186px;height:23px;background:#ccffff"></div><div class="tb" style="left:708px;top:274px;width:220px;height:23px;background:#ccffff"></div><div class="tb" style="left:939px;top:306px;width:332px;height:23px;background:#ccffff"></div><div class="tb" style="left:351px;top:441px;width:53px;height:23px;background:#f0f0f0"></div><div class="tb" style="left:669px;top:472px;width:158px;height:23px;background:#ccffff"></div><div class="tb" style="left:716px;top:504px;width:172px;height:23px;background:#ccffff"></div><div class="tb" style="left:891px;top:528px;width:332px;height:23px;background:#ccffff"></div><div class="tb" style="left:314px;top:563px;width:132px;height:23px;background:#ccffff"></div><div class="tb" style="left:1153px;top:568px;width:52px;height:23px;background:#c4ffc4"></div><div class="tb" style="left:820px;top:599px;width:172px;height:23px;background:#ccffff"></div><div class="tb" style="left:724px;top:639px;width:219px;height:23px;background:#ccffff"></div><div class="tb" style="left:907px;top:671px;width:332px;height:23px;background:#ccffff"></div><div class="tb" style="left:399px;top:711px;width:51px;height:23px;background:#c4ffc4"></div><div class="tb" style="left:986px;top:711px;width:79px;height:23px;background:#ffcc99"></div><div class="tb" style="left:653px;top:750px;width:139px;height:23px;background:#f0f0f0"></div><div class="tb" style="left:891px;top:750px;width:85px;height:23px;background:#f0f0f0"></div><div class="cb" style="left:304px;top:139px;width:78px;height:23px"><div class="btn" style="width:17px"><i></i></div></div><div class="cb" style="left:288px;top:234px;width:85px;height:23px"><div class="btn" style="width:17px"><i></i></div></div><div class="cb" style="left:320px;top:274px;width:78px;height:23px"><div class="btn" style="width:17px"><i></i></div></div><div class="cb" style="left:442px;top:307px;width:71px;height:23px"><div class="btn" style="width:17px"><i></i></div></div><div class="cb" style="left:304px;top:472px;width:78px;height:23px"><div class="btn" style="width:17px"><i></i></div></div><div class="cb" style="left:328px;top:504px;width:71px;height:23px"><div class="btn" style="width:17px"><i></i></div></div><div class="cb" style="left:415px;top:536px;width:71px;height:23px"><div class="btn" style="width:17px"><i></i></div></div><div class="cb" style="left:375px;top:599px;width:78px;height:23px"><div class="btn" style="width:17px"><i></i></div></div><div class="cb" style="left:328px;top:639px;width:78px;height:23px"><div class="btn" style="width:17px"><i></i></div></div><div class="cb" style="left:431px;top:671px;width:71px;height:23px"><div class="btn" style="width:17px"><i></i></div></div><div class="cmd" style="left:26px;top:750px;width:167px;height:25px"><div style="position:absolute;left:0;top:0;right:3px;bottom:0;overflow:hidden"><div class="t" style="left:5.399999999999999px;top:4.399999999999977px;font-size:14px;font-weight:bold;transform:scaleX(0.949);transform-origin:0 0">Retour accueil menus (A</div></div></div><div class="cmd" style="left:210px;top:750px;width:173px;height:25px"><div style="position:absolute;left:0;top:0;right:3px;bottom:0;overflow:hidden"><div class="t" style="left:6.599999999999994px;top:4.399999999999977px;font-size:14px;font-weight:bold;transform:scaleX(0.962);transform-origin:0 0">Supprimer création menu</div></div></div><div class="cmd" style="left:399px;top:751px;width:153px;height:26px"><div style="position:absolute;left:0;top:0;right:3px;bottom:0;overflow:hidden"><div class="t" style="left:5px;top:4.399999999999977px;font-size:14px;font-weight:bold;transform:scaleX(0.983);transform-origin:0 0">Valider création menu</div></div></div><svg style="position:absolute;left:331px;top:190px" width="14" height="22" viewBox="0 0 14 22">
<path d="M1.5 1.5 V17.8 L5.3 14.3 L8.1 20 L10.8 18.8 L8.1 13 H12.8 Z" fill="#fff" stroke="#000" stroke-width="1.05" stroke-linejoin="round"></path></svg></div></div>

</body></html>
